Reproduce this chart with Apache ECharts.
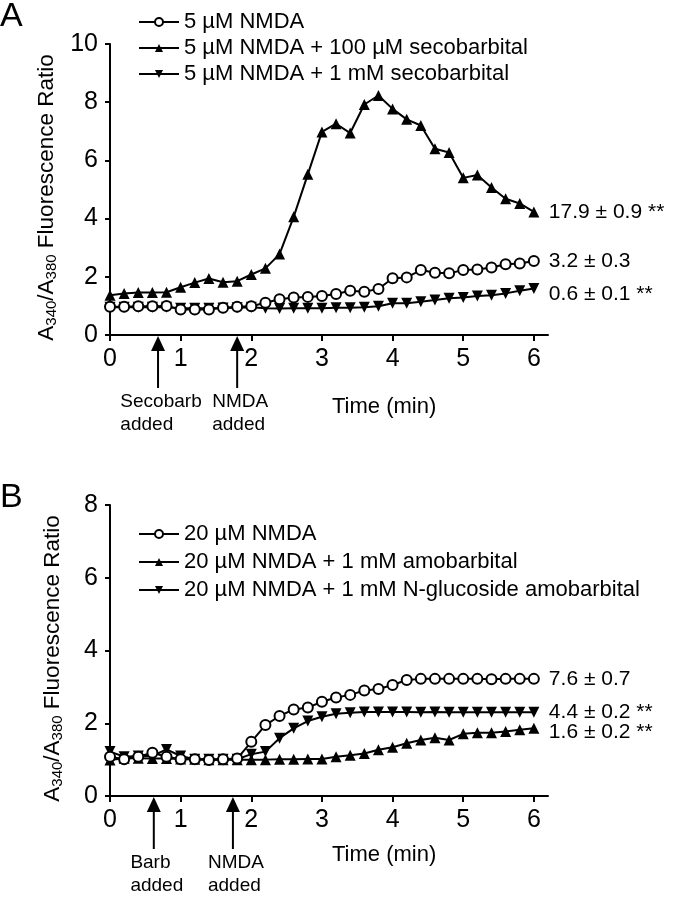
<!DOCTYPE html>
<html><head><meta charset="utf-8">
<script src="https://cdn.jsdelivr.net/npm/echarts@6/dist/echarts.min.js"></script>
<style>html,body{margin:0;padding:0;background:#fff}#c{width:675px;height:900px}</style>
</head><body><div id="c"></div>
<script>
const times = [0,0.2,0.4,0.6,0.8,1.0,1.2,1.4,1.6,1.8,2.0,2.2,2.4,2.6,2.8,3.0,3.2,3.4,3.6,3.8,4.0,4.2,4.4,4.6,4.8,5.0,5.2,5.4,5.6,5.8,6.0];
const xTicks = [0,1,2,3,4,5,6];
const yTicksA = [0,2,4,6,8,10];
const yTicksB = [0,2,4,6,8];

// Panel A
const namesA = ['5 µM NMDA','5 µM NMDA + 100 µM secobarbital','5 µM NMDA + 1 mM secobarbital'];
const nmda5 = [0.97,0.97,0.99,0.99,1.00,0.88,0.88,0.88,0.94,0.97,0.99,1.11,1.23,1.29,1.31,1.34,1.41,1.52,1.49,1.58,1.95,1.98,2.23,2.14,2.12,2.23,2.25,2.32,2.43,2.46,2.54];
const seco100 = [1.37,1.43,1.46,1.46,1.47,1.64,1.80,1.94,1.81,1.85,2.08,2.29,2.78,4.06,5.52,6.98,7.26,6.94,7.92,8.23,7.77,7.41,7.20,6.40,6.27,5.40,5.50,5.07,4.68,4.52,4.23];
const seco1mM = [0.95,0.95,0.95,0.95,0.95,0.92,0.92,0.92,0.93,0.94,0.95,0.92,0.91,0.92,0.92,0.92,0.94,0.94,0.95,0.99,1.09,1.09,1.14,1.20,1.26,1.29,1.34,1.37,1.43,1.52,1.60];
const endLabelsA = ['3.2 ± 0.3','17.9 ± 0.9 **','0.6 ± 0.1 **'];
const arrowTimesA = [0.68,1.8];
const arrowTextA = [['Secobarb','added'],['NMDA','added']];

// Panel B
const namesB = ['20 µM NMDA','20 µM NMDA + 1 mM amobarbital','20 µM NMDA + 1 mM N-glucoside amobarbital'];
const nmda20 = [1.08,1.01,1.08,1.19,1.08,1.01,1.01,0.99,1.01,1.03,1.49,1.95,2.20,2.38,2.43,2.59,2.71,2.78,2.90,2.94,3.05,3.19,3.22,3.22,3.22,3.22,3.22,3.21,3.22,3.22,3.22];
const amo = [0.99,1.04,1.04,1.03,1.03,1.02,1.01,1.00,1.00,1.00,1.00,1.00,1.01,1.01,1.02,1.02,1.08,1.12,1.17,1.27,1.34,1.45,1.54,1.60,1.54,1.71,1.74,1.74,1.77,1.82,1.86];
const gluAmo = [1.22,1.08,1.10,1.10,1.28,1.10,1.01,1.01,1.01,1.01,1.15,1.22,1.59,1.86,2.06,2.18,2.26,2.29,2.31,2.31,2.31,2.31,2.30,2.31,2.30,2.30,2.30,2.30,2.30,2.30,2.30];
const endLabelsB = ['7.6 ± 0.7','1.6 ± 0.2 **','4.4 ± 0.2 **'];
const arrowTimesB = [0.62,1.74];
const arrowTextB = [['Barb','added'],['NMDA','added']];

const FONT = '"Liberation Sans", Arial, Helvetica, sans-serif';
const chart = echarts.init(document.getElementById('c'), null, {renderer:'canvas'});

function mk(name, vals, idx, kind, endText, off) {
  const circle = kind === 'circle';
  return {
    type:'line', name, xAxisIndex: idx, yAxisIndex: idx,
    data: times.map((t,i)=>[t, vals[i]]),
    symbol: circle ? 'circle' : 'triangle',
    symbolRotate: kind === 'down' ? 180 : 0,
    symbolSize: circle ? 10 : 11,
    showAllSymbol: true,
    lineStyle: {color:'#000', width:2},
    itemStyle: {color: circle ? '#fff' : '#000', borderColor:'#000', borderWidth: circle ? 2 : 0},
    endLabel: {show:true, formatter: endText, distance: 15, offset:[0, off], fontSize:21, color:'#000', fontFamily: FONT},
    emphasis: {disabled:true},
    z: circle ? 5 : 3,
    animation:false
  };
}

const yName = '{a|A}{s|340}{a|/A}{s|380}{a| Fluorescence Ratio}';
const nameStyle = {
  color:'#000', fontFamily: FONT, fontSize:22.5, padding:[0,0,0,-16],
  rich: {
    a: {fontSize:22.5, fontFamily: FONT, color:'#000'},
    s: {fontSize:15, fontFamily: FONT, color:'#000', verticalAlign:'bottom', padding:[9,0,0,0]}
  }
};

function xAx(idx) {
  return {
    type:'value', gridIndex: idx, min:0, max:6.2,
    axisLine:{show:true, lineStyle:{color:'#000', width:2}},
    axisTick:{show:true, inside:false, length:6, lineStyle:{color:'#000', width:2}, customValues: xTicks},
    axisLabel:{color:'#000', fontSize:25, fontFamily: FONT, margin:12, customValues: xTicks},
    splitLine:{show:false}
  };
}
function yAx(idx, max, ticks) {
  return {
    type:'value', gridIndex: idx, min:0, max: max, interval:2,
    name: yName, nameLocation:'middle', nameRotate:90, nameGap:45, nameTextStyle: nameStyle,
    axisLine:{show:true, lineStyle:{color:'#000', width:2}},
    axisTick:{show:true, length:5, lineStyle:{color:'#000', width:2}, customValues: ticks},
    axisLabel:{color:'#000', fontSize:25, fontFamily: FONT, margin:12, customValues: ticks},
    splitLine:{show:false}
  };
}

const legendBase = {
  orient:'vertical', left:133, itemWidth:40, itemHeight:10,
  textStyle:{color:'#000', fontSize:22, fontFamily: FONT, lineHeight:22},
  selectedMode:false
};

chart.setOption({
  animation:false,
  backgroundColor:'#fff',
  grid:[
    {left:110, top:44, width:438, height:291},
    {left:110, top:505, width:438, height:291}
  ],
  xAxis:[xAx(0), xAx(1)],
  yAxis:[yAx(0,10,yTicksA), yAx(1,8,yTicksB)],
  legend:[
    Object.assign({}, legendBase, {data: namesA, top:6, itemGap:4}),
    Object.assign({}, legendBase, {data: namesB, top:518, itemGap:6})
  ],
  series:[
    mk(namesA[2], seco1mM, 0, 'down', endLabelsA[2], 6),
    mk(namesA[1], seco100, 0, 'up', endLabelsA[1], 0),
    mk(namesA[0], nmda5, 0, 'circle', endLabelsA[0], 0),
    mk(namesB[1], amo, 1, 'up', endLabelsB[1], 4),
    mk(namesB[2], gluAmo, 1, 'down', endLabelsB[2], 0),
    mk(namesB[0], nmda20, 1, 'circle', endLabelsB[0], 0)
  ]
});

const measure = document.createElement('canvas').getContext('2d');
function arrows(gi, ts, texts) {
  const els = [];
  ts.forEach((t,i)=>{
    const p = chart.convertToPixel({gridIndex: gi}, [t, 0]);
    const x = p[0], y = p[1];
    els.push({type:'polygon', shape:{points:[[x, y+1],[x-7, y+16],[x+7, y+16]]}, style:{fill:'#000'}, z:10});
    els.push({type:'line', shape:{x1:x, y1:y+14, x2:x, y2:y+53}, style:{stroke:'#000', lineWidth:2}, z:10});
    measure.font = '19px ' + FONT;
    const w = Math.max.apply(null, texts[i].map(s=>measure.measureText(s).width));
    const left = x + 3 - w/2;
    texts[i].forEach((s,j)=>{
      els.push({type:'text', x: left, y: y + 67 + j*23, style:{text: s, fill:'#000', fontSize:19, fontFamily: FONT, align:'left', verticalAlign:'middle'}, z:10});
    });
  });
  return els;
}
function timeLabel(gi, dy) {
  const p = chart.convertToPixel({gridIndex: gi}, [3.88, 0]);
  return {type:'text', x: p[0], y: p[1]+dy, style:{text:'Time (min)', fill:'#000', fontSize:22, fontFamily: FONT, align:'center', verticalAlign:'middle'}, z:10};
}
chart.setOption({
  graphic: [].concat(
    arrows(0, arrowTimesA, arrowTextA),
    arrows(1, arrowTimesB, arrowTextB),
    [timeLabel(0, 72), timeLabel(1, 59),
     {type:'text', left:0, top:0, style:{text:'A', fill:'#000', fontSize:34, fontFamily: FONT}},
     {type:'text', left:0, top:481, style:{text:'B', fill:'#000', fontSize:34, fontFamily: FONT}}]
  )
});
</script>
</body></html>
